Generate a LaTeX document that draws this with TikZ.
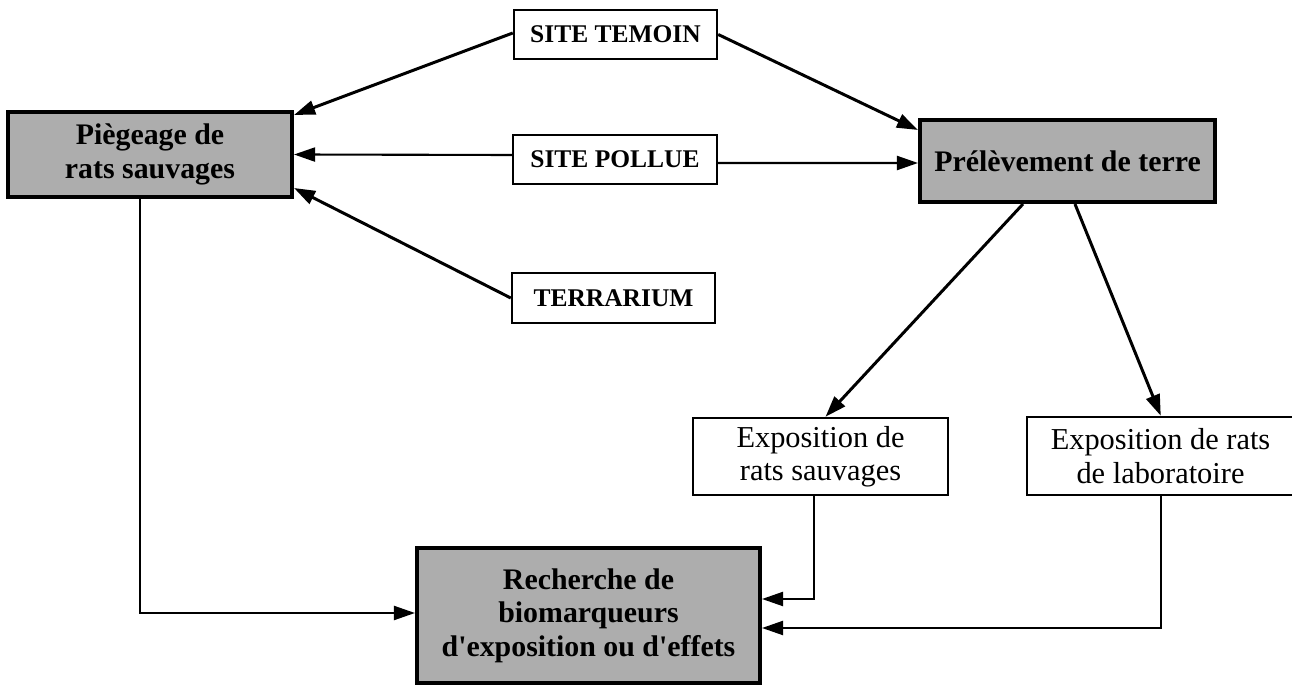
\documentclass[tikz,border=0pt]{standalone}
\usepackage{fontspec}
\setmainfont{Liberation Serif}
\usetikzlibrary{arrows.meta,calc}
\begin{document}
\begin{tikzpicture}[x=0.02cm,y=-0.02cm,
  shaded/.style={draw=black,line width=2.3pt,fill=black!32,inner sep=0pt,align=center,
    font=\fontsize{17}{19}\selectfont\bfseries},
  sitebox/.style={draw=black,line width=1.4pt,fill=white,inner sep=0pt,align=center,
    font=\fontsize{14.5}{17}\selectfont\bfseries},
  expobox/.style={draw=black,line width=1.4pt,fill=white,inner sep=0pt,align=center,
    font=\fontsize{17.3}{19}\selectfont},
  thickarrow/.style={line width=1.7pt,-{Triangle[length=12pt,width=8pt]}},
  thinarrow/.style={line width=1.2pt,-{Triangle[length=12pt,width=8pt]}}]
\useasboundingbox (0,0) rectangle (1292,685);
\node[shaded,minimum width=284*0.02cm,minimum height=85*0.02cm] (pieg) at (150,154.5) {Piègeage de\\rats sauvages};
\node[sitebox,minimum width=203*0.02cm,minimum height=49*0.02cm] (stem) at (615.5,34.5) {SITE TEMOIN};
\node[sitebox,minimum width=204*0.02cm,minimum height=49*0.02cm] (spol) at (615,159.5) {SITE POLLUE};
\node[sitebox,minimum width=203*0.02cm,minimum height=50*0.02cm] (terr) at (613.5,298) {TERRARIUM};
\node[shaded,minimum width=295*0.02cm,minimum height=82*0.02cm] (prel) at (1067.5,161) {Prélèvement de terre};
\node[expobox,minimum width=255*0.02cm,minimum height=77*0.02cm] (exs) at (820.5,456.5) {Exposition de\\rats sauvages};
\node[expobox,minimum width=267*0.02cm,minimum height=78*0.02cm] (exl) at (1160.5,456) {Exposition de rats\\de laboratoire};
\node[shaded,minimum width=343*0.02cm,minimum height=135*0.02cm] (rech) at (588.5,615.5) {Recherche de\\biomarqueurs\\d\textquotesingle exposition ou d\textquotesingle effets};
\draw[thickarrow] ($(stem.west)+(0,-1.5)$) -- ($(pieg.north east)+(0,5)$);
\draw[thickarrow] (stem.east) -- ($(prel.north west)+(0,12)$);
\draw[thinarrow] ($(spol.west)+(0,-4.5)$) -- (pieg.east);
\draw[thinarrow] ($(spol.east)+(0,3.5)$) -- ($(prel.west)+(0,2)$);
\draw[thickarrow] (terr.west) -- ($(pieg.south east)+(0,-11)$);
\draw[thickarrow] ($(prel.south west)+(105,0)$) -- ($(exs.north)+(5,0)$);
\draw[thickarrow] ($(prel.south west)+(157,0)$) -- ($(exl.north west)+(135,0)$);
\draw[thinarrow] ($(pieg.south west)+(134,0)$) |- ($(rech.west)+(0,-2.5)$);
\draw[thinarrow] ($(exs.south west)+(122,0)$) |- ($(rech.east)+(0,-16.5)$);
\draw[thinarrow] ($(exl.south west)+(135,0)$) |- ($(rech.east)+(0,12.5)$);
\end{tikzpicture}
\end{document}
